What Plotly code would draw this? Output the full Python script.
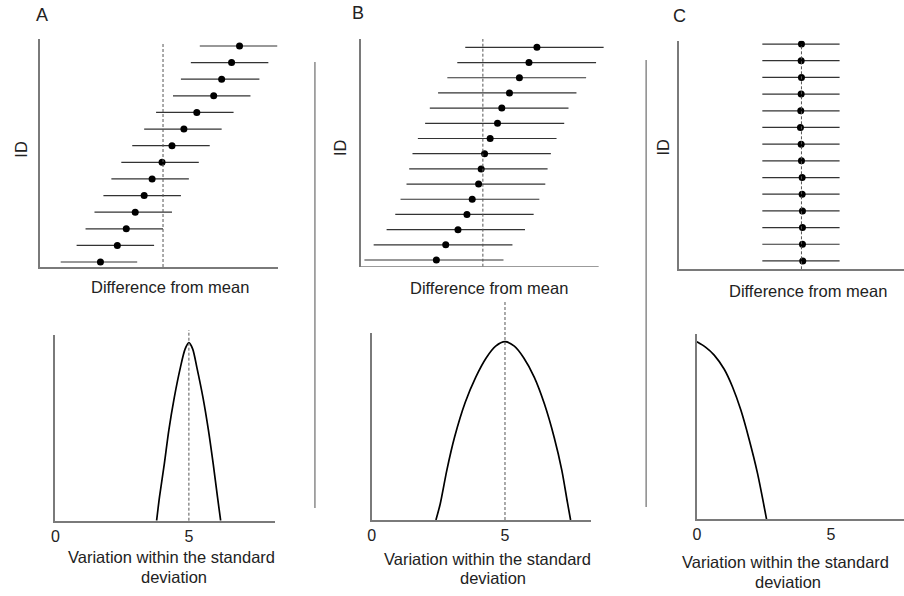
import plotly.graph_objects as go

W, H = 904, 596

# ---------------- data (IDs listed bottom -> top) ----------------
a_est = [-6.3, -4.6, -3.7, -2.8, -1.9, -1.1, -0.1, 0.9, 2.1, 3.4, 5.1, 5.9, 6.9, 7.7]
a_lo = [-10.3, -8.7, -7.8, -6.9, -6.0, -5.2, -4.2, -3.1, -1.9, -0.7, 1.0, 1.8, 2.8, 3.7]
a_hi = [-2.6, -0.9, 0.0, 0.9, 1.8, 2.6, 3.6, 4.7, 5.9, 7.1, 8.8, 9.7, 10.6, 11.5]

b_est = [-4.67, -3.73, -2.5, -1.6, -1.07, -0.43, -0.17, 0.17, 0.73, 1.47, 1.9, 2.67, 3.67, 4.63, 5.43]
b_lo = [-11.9, -10.97, -9.67, -8.8, -8.27, -7.67, -7.4, -7.07, -6.53, -5.8, -5.33, -4.5, -3.57, -2.57, -1.77]
b_hi = [2.07, 2.97, 4.23, 5.1, 5.67, 6.27, 6.5, 6.83, 7.4, 8.17, 8.6, 9.4, 10.37, 11.37, 12.13]

c_est = [0.13, 0.1, 0.1, 0.1, 0.07, 0.07, 0.0, -0.03, -0.1, -0.07, -0.03, 0.0, -0.03, 0.0]
c_lo = [-3.93] * 14
c_hi = [3.83] * 14

# curves of variation within the standard deviation
a_curve_x = [3.79, 3.90, 4.08, 4.25, 4.45, 4.68, 4.86, 5.0, 5.14, 5.30, 5.53, 5.73, 5.91, 6.07, 6.19]
a_curve_y = [0.0, 0.135, 0.32, 0.51, 0.69, 0.86, 0.965, 1.0, 0.965, 0.86, 0.69, 0.51, 0.32, 0.135, 0.0]
b_curve_x = [2.41, 2.57, 2.82, 3.11, 3.51, 3.90, 4.30, 4.65, 5.0, 5.35, 5.70, 6.10, 6.48, 6.85, 7.13, 7.34, 7.46]
b_curve_y = [0.0, 0.09, 0.28, 0.465, 0.66, 0.80, 0.91, 0.975, 1.0, 0.975, 0.91, 0.80, 0.65, 0.46, 0.28, 0.10, 0.0]
c_curve_x = [0.0, 0.32, 0.645, 1.02, 1.33, 1.64, 1.94, 2.26, 2.60]
c_curve_y = [1.0, 0.97, 0.925, 0.845, 0.745, 0.615, 0.455, 0.26, 0.0]

bottom_tickvals = [0, 5]
bottom_ticktext = ["0", "5"]

# ---------------- helpers ----------------
FONT = "Liberation Sans, Arial, sans-serif"
AXC = "#7a7a7a"


def dx(a, b):
    return [a / W, b / W]


def dy(top, bottom):
    return [1 - bottom / H, 1 - top / H]


def px(x):
    return x / W


def py(y):
    return 1 - y / H


fig = go.Figure()


def forest(est, lo, hi, xa, ya):
    ids = list(range(1, len(est) + 1))
    xs, ys = [], []
    for i, l, h in zip(ids, lo, hi):
        xs += [l, h, None]
        ys += [i, i, None]
    fig.add_trace(go.Scatter(x=xs, y=ys, mode="lines", line=dict(color="#333333", width=1.2),
                             xaxis=xa, yaxis=ya, hoverinfo="skip"))
    fig.add_trace(go.Scatter(x=est, y=ids, mode="markers", marker=dict(color="black", size=7),
                             xaxis=xa, yaxis=ya))


forest(a_est, a_lo, a_hi, "x", "y")
forest(b_est, b_lo, b_hi, "x2", "y2")
forest(c_est, c_lo, c_hi, "x3", "y3")

for cx, cy, xa, ya in [(a_curve_x, a_curve_y, "x4", "y4"),
                       (b_curve_x, b_curve_y, "x5", "y5"),
                       (c_curve_x, c_curve_y, "x6", "y6")]:
    fig.add_trace(go.Scatter(x=cx, y=cy, mode="lines",
                             line=dict(color="black", width=1.7, shape="spline", smoothing=0.8),
                             xaxis=xa, yaxis=ya))

top_common = dict(showgrid=False, zeroline=False, showticklabels=False, ticks="",
                  showline=True, linecolor=AXC, linewidth=1.5, fixedrange=True)
bot_x = dict(showgrid=False, zeroline=False, ticks="", showline=True, linecolor=AXC, linewidth=1.5,
             tickmode="array", tickvals=bottom_tickvals, ticktext=bottom_ticktext,
             tickfont=dict(family=FONT, size=16, color="#222"))
bot_y = dict(showgrid=False, zeroline=False, showticklabels=False, ticks="",
             showline=True, linecolor=AXC, linewidth=1.5)

fig.update_layout(
    width=W, height=H, margin=dict(l=0, r=0, t=0, b=0),
    paper_bgcolor="white", plot_bgcolor="white", showlegend=False,
    font=dict(family=FONT, color="#222"),
    xaxis=dict(top_common, domain=dx(36, 275), range=[-12.4, 11.55], anchor="y"),
    yaxis=dict(top_common, domain=dy(39, 267), range=[0.7, 14.42], anchor="x"),
    xaxis2=dict(top_common, domain=dx(358.3, 603), range=[-12.27, 12.2], anchor="y2", showline=False),
    yaxis2=dict(top_common, domain=dy(39, 266.7), range=[0.56, 15.55], anchor="x2"),
    xaxis3=dict(top_common, domain=dx(678.3, 904), range=[-12.27, 10.3], anchor="y3"),
    yaxis3=dict(top_common, domain=dy(40.7, 269.3), range=[0.5, 14.2], anchor="x3"),
    xaxis4=dict(bot_x, domain=dx(51.7, 272.3), range=[0, 8.23], anchor="y4"),
    yaxis4=dict(bot_y, domain=dy(335, 520.7), range=[0, 1.043], anchor="x4"),
    xaxis5=dict(bot_x, domain=dx(369.3, 590), range=[0, 8.24], anchor="y5"),
    yaxis5=dict(bot_y, domain=dy(333.3, 520), range=[0, 1.047], anchor="x5"),
    xaxis6=dict(bot_x, domain=dx(696, 904), range=[0, 7.73], anchor="y6"),
    yaxis6=dict(bot_y, domain=dy(334.3, 519.3), range=[0, 1.042], anchor="x6"),
)

shapes = []
dash = dict(color="#555555", width=1, dash="3px,2px")
# mean lines in top panels
shapes.append(dict(type="line", xref="x", yref="y", x0=0, x1=0, y0=0.7, y1=14.12, line=dash))
shapes.append(dict(type="line", xref="x2", yref="y2", x0=0, x1=0, y0=0.56, y1=15.55, line=dash))
shapes.append(dict(type="line", xref="x3", yref="y3", x0=0, x1=0, y0=0.5, y1=14.0, line=dash))
# B top x axis line (axis shorter than the widest interval)
shapes.append(dict(type="line", xref="x2", yref="y2", x0=-12.27, x1=11.63, y0=0.56, y1=0.56,
                   line=dict(color=AXC, width=1.5)))
# peak lines in bottom panels
shapes.append(dict(type="line", xref="x4", yref="paper", x0=5, x1=5, y0=py(520.7), y1=py(330), line=dash))
shapes.append(dict(type="line", xref="x5", yref="paper", x0=5, x1=5, y0=py(520), y1=py(302), line=dash))
# separators
shapes.append(dict(type="line", xref="paper", yref="paper", x0=px(312.3), x1=px(312.3), y0=py(508), y1=py(62),
                   line=dict(color="#8a8a8a", width=1.5)))
shapes.append(dict(type="line", xref="paper", yref="paper", x0=px(645), x1=px(645), y0=py(507), y1=py(60),
                   line=dict(color="#8a8a8a", width=1.5)))
fig.update_layout(shapes=shapes)

ann = []


def text(t, x, y, size=16.5, angle=0):
    ann.append(dict(text=t, x=px(x), y=py(y), xref="paper", yref="paper", showarrow=False,
                    xanchor="center", yanchor="middle", textangle=angle,
                    font=dict(family=FONT, size=size, color="#222")))


text("A", 37.7, 15, 18)
text("B", 355.7, 13.3, 18)
text("C", 678.3, 15.7, 18)
text("ID", 16.7, 149, angle=-90)
text("ID", 337.5, 148, angle=-90)
text("ID", 661.7, 146.7, angle=-90)
text("Difference from mean", 167, 286.7)
text("Difference from mean", 486.7, 288.3)
text("Difference from mean", 807.3, 291)
text("Variation within the standard", 167.8, 557.3)
text("deviation", 170.3, 576.7)
text("Variation within the standard", 485.7, 559)
text("deviation", 490.8, 578)
text("Variation within the standard", 785.3, 561.7)
text("deviation", 787.8, 581.7)
fig.update_layout(annotations=ann)

fig.write_html("out.html")
